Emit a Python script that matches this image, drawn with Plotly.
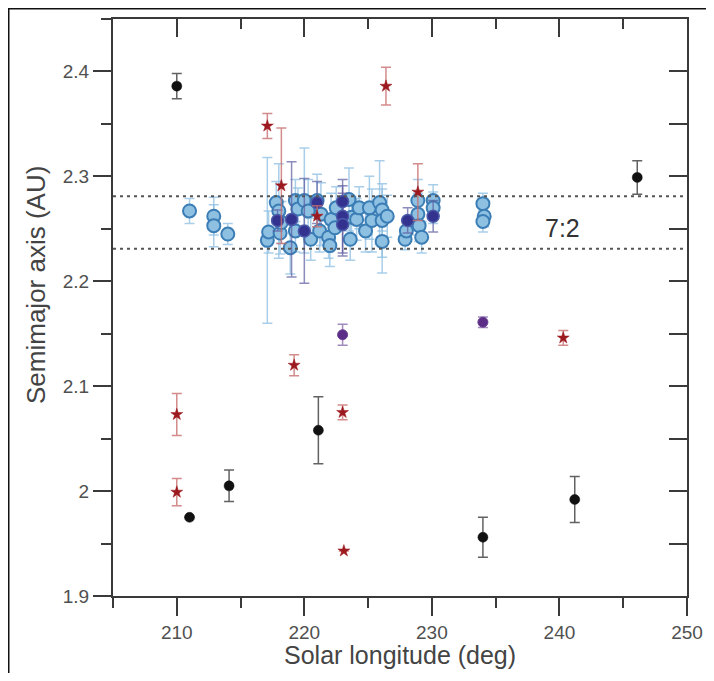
import plotly.graph_objects as go

# ---------------- data ----------------
lb_lon = [211.0, 212.9, 212.9, 214.0, 217.1, 217.2, 217.8, 218.0, 218.1, 218.2,
          218.9, 219.3, 219.5, 219.3, 220.0, 220.3, 220.5, 221.0, 221.3, 221.2,
          221.9, 222.1, 222.0, 222.4, 222.5, 223.5, 223.7, 223.6, 224.1, 224.3,
          224.8, 225.1, 225.3, 225.9, 226.1, 226.1, 226.1, 226.5, 227.9, 228.0,
          228.9, 228.9, 229.0, 229.2, 230.1, 230.1, 234.0, 234.1, 234.0]
lb_a = [2.267, 2.262, 2.253, 2.245, 2.239, 2.247, 2.275, 2.267, 2.246, 2.256,
        2.232, 2.277, 2.269, 2.248, 2.277, 2.267, 2.240, 2.277, 2.264, 2.248,
        2.242, 2.259, 2.234, 2.251, 2.270, 2.278, 2.261, 2.240, 2.259, 2.270,
        2.248, 2.270, 2.258, 2.275, 2.268, 2.258, 2.238, 2.262, 2.240, 2.248,
        2.277, 2.264, 2.253, 2.242, 2.277, 2.270, 2.274, 2.262, 2.257]
lb_err = [0.012, 0.018, 0.020, 0.010, 0.079, 0.020, 0.020, 0.045, 0.020, 0.020,
          0.025, 0.020, 0.020, 0.020, 0.050, 0.030, 0.020, 0.025, 0.030, 0.020,
          0.020, 0.025, 0.020, 0.020, 0.020, 0.030, 0.020, 0.020, 0.020, 0.020,
          0.020, 0.030, 0.030, 0.040, 0.020, 0.035, 0.030, 0.020, 0.010, 0.010,
          0.020, 0.020, 0.015, 0.015, 0.015, 0.015, 0.010, 0.010, 0.010]

navy_lon = [217.9, 219.0, 220.0, 221.0, 223.0, 223.0, 223.0, 228.1, 230.1]
navy_a = [2.258, 2.259, 2.248, 2.275, 2.276, 2.262, 2.254, 2.258, 2.262]
navy_err = [0.010, 0.055, 0.050, 0.020, 0.015, 0.035, 0.030, 0.012, 0.015]

red_lon = [210.0, 210.0, 217.1, 218.2, 219.2, 221.0, 223.0, 223.1, 226.4, 228.9, 240.3]
red_a = [2.073, 1.999, 2.348, 2.291, 2.120, 2.262, 2.075, 1.943, 2.386, 2.285, 2.146]
red_err = [0.020, 0.013, 0.012, 0.055, 0.010, 0.010, 0.007, 0.0, 0.018, 0.027, 0.007]

black_lon = [210.0, 211.0, 214.1, 221.1, 234.0, 241.2, 246.1]
black_a = [2.386, 1.975, 2.005, 2.058, 1.956, 1.992, 2.299]
black_err = [0.012, 0.0, 0.015, 0.032, 0.019, 0.022, 0.016]

purple_lon = [223.0, 234.0]
purple_a = [2.149, 2.161]
purple_err = [0.010, 0.005]

resonance_band = [2.231, 2.281]
resonance_label = "7:2"
resonance_label_pos = (240.2, 2.251)

x_ticks = [210, 220, 230, 240, 250]
y_ticks = [1.9, 2.0, 2.1, 2.2, 2.3, 2.4]
y_ticklabels = ["1.9", "2", "2.1", "2.2", "2.3", "2.4"]

x_title = "Solar longitude (deg)"
y_title = "Semimajor axis (AU)"

# ---------------- figure ----------------
# page is rendered with an 8px body margin
OFF = 8
W, H = 714 - 2 * OFF, 681 - 2 * OFF
PAGE_L, PAGE_R, PAGE_T, PAGE_B = 113, 687, 19, 596
L, T = PAGE_L - OFF, PAGE_T - OFF
R = W - (PAGE_R - OFF)
B = H - (PAGE_B - OFF)
PW, PH = PAGE_R - PAGE_L, PAGE_B - PAGE_T


def px_x(p):  # page pixel -> paper fraction
    return (p - PAGE_L) / PW


def px_y(p):
    return (PAGE_B - p) / PH


fig = go.Figure()


def add_series(xs, ys, errs, symbol, size, fill, line_col, line_w, err_col):
    fig.add_trace(go.Scatter(
        x=xs, y=ys, mode="markers",
        marker=dict(symbol=symbol, size=size, color=fill,
                    line=dict(color=line_col, width=line_w)),
        error_y=dict(type="data", array=errs, visible=True, color=err_col,
                     thickness=1.5, width=5),
        hoverinfo="skip", showlegend=False))


add_series(lb_lon, lb_a, lb_err, "circle", 13, "#8ec0e2", "#3b7db5", 2, "rgba(140,190,225,0.75)")
add_series(navy_lon, navy_a, navy_err, "circle", 12, "#33338f", "#4a5aa8", 1.5, "rgba(90,90,160,0.7)")
add_series(purple_lon, purple_a, purple_err, "circle", 10, "#5b2d86", "#6a3e95", 1, "rgba(120,90,160,0.7)")
add_series(red_lon, red_a, red_err, "star", 9, "#9c1a1f", "#9c1a1f", 0.5, "rgba(200,110,110,0.8)")
add_series(black_lon, black_a, black_err, "circle", 10, "#111111", "#111111", 0.5, "rgba(70,70,70,0.85)")

# dummy trace so the mirror axes (top/right, inside ticks) get drawn
fig.add_trace(go.Scatter(x=[], y=[], xaxis="x2", yaxis="y2", showlegend=False, hoverinfo="skip"))

for yv in resonance_band:
    fig.add_shape(type="line", xref="x domain", yref="y", x0=0, x1=1, y0=yv, y1=yv,
                  line=dict(color="#555555", width=2, dash="3px,4px"))

fig.add_annotation(x=resonance_label_pos[0], y=resonance_label_pos[1], text=resonance_label,
                   showarrow=False, font=dict(family="Liberation Sans, Arial", size=25, color="#333333"))

fig.add_annotation(xref="paper", yref="paper", x=px_x(400), y=px_y(655), text=x_title,
                   showarrow=False, font=dict(family="Liberation Sans, Arial", size=25, color="#444444"),
                   xanchor="center", yanchor="middle")
fig.add_annotation(xref="paper", yref="paper", x=px_x(36), y=px_y(285), text=y_title,
                   textangle=-90, showarrow=False,
                   font=dict(family="Liberation Sans, Arial", size=26, color="#444444"),
                   xanchor="center", yanchor="middle")

# page frame line along the left/top edge
fig.add_shape(type="rect", xref="paper", yref="paper", layer="below",
              x0=px_x(OFF + 0.75), x1=px_x(760), y0=px_y(OFF + 0.75), y1=px_y(760),
              fillcolor="white", line=dict(color="#111111", width=1.5))

axis_common = dict(showgrid=False, zeroline=False, linecolor="#3a3a3a", linewidth=2,
                   tickcolor="#3a3a3a", tickwidth=2, ticklen=18)
tickfont = dict(family="Liberation Sans, Arial", size=19, color="#505050")

fig.update_layout(
    width=W, height=H,
    margin=dict(l=L, r=R, t=T, b=B, autoexpand=False),
    paper_bgcolor="white", plot_bgcolor="white",
    xaxis=dict(range=[205, 250], tickvals=x_ticks, ticks="outside", tickfont=tickfont,
               minor=dict(dtick=5, tick0=205, ticks="outside", ticklen=10, tickwidth=2, tickcolor="#3a3a3a"),
               showline=True, **axis_common),
    yaxis=dict(range=[1.9, 2.45], tickvals=y_ticks, ticktext=y_ticklabels, ticks="outside",
               tickfont=tickfont,
               minor=dict(dtick=0.05, tick0=1.9, ticks="outside", ticklen=10, tickwidth=2, tickcolor="#3a3a3a"),
               showline=True, **axis_common),
    xaxis2=dict(range=[205, 250], overlaying="x", side="top", anchor="y2", tickvals=x_ticks,
                ticks="inside", showticklabels=False,
                minor=dict(dtick=5, tick0=205, ticks="inside", ticklen=10, tickwidth=2, tickcolor="#3a3a3a"),
                showline=True, **axis_common),
    yaxis2=dict(range=[1.9, 2.45], overlaying="y", side="right", anchor="x2", dtick=0.05, tick0=1.9,
                ticks="inside", showticklabels=False, showline=True, **axis_common),
)

fig.write_html("out.html")
